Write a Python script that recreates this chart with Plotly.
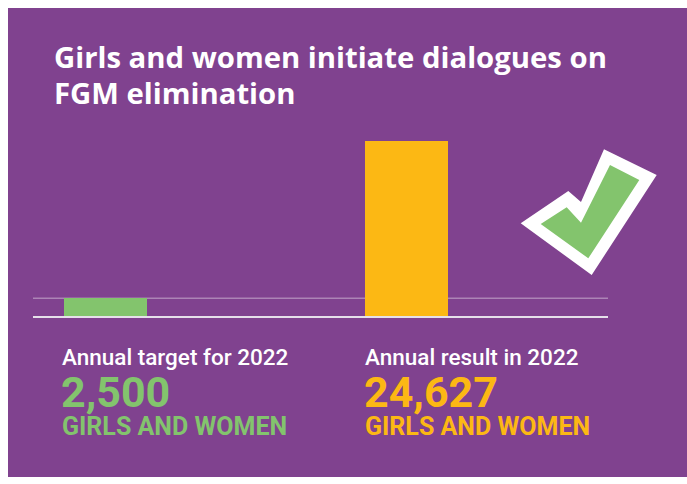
import plotly.graph_objects as go

# ---- data ----
categories = ["Annual target for 2022", "Annual result in 2022"]
values = [2500, 24627]
value_labels = ["2,500", "24,627"]
unit_label = "GIRLS AND WOMEN"
bar_colors = ["#83c46d", "#fcb814"]
title_lines = ["Girls and women initiate dialogues on", "FGM elimination"]

W, H = 687, 484
ML, MR, MT, MB = 33, 79, 130, 168
PW, PH = W - ML - MR, H - MT - MB


def px(x):
    return (x - ML) / PW


def py(y):
    return (H - MB - y) / PH


def path(points):
    return "M " + " L ".join(f"{px(a):.5f},{py(b):.5f}" for a, b in points) + " Z"


fig = go.Figure()
fig.add_trace(go.Bar(
    x=[0, 1], y=values, width=0.2757,
    marker=dict(color=bar_colors, line=dict(width=0)),
    hoverinfo="skip", showlegend=False,
))

shapes = [
    dict(type="rect", xref="paper", yref="paper", x0=px(8), x1=px(W + 2), y0=py(477), y1=py(8),
         fillcolor="#80428f", line=dict(width=0), layer="below"),
    dict(type="line", xref="paper", yref="y", x0=0, x1=1, y0=values[0], y1=values[0],
         line=dict(color="rgba(255,255,255,0.35)", width=1.5), layer="below"),
]

outer = [(520.7, 223.3), (568.3, 191), (581, 202), (604, 149.3), (656.7, 175), (591.7, 275)]
inner = [(540.7, 224), (566.7, 207.3), (581, 222.7), (610, 165), (639.3, 180), (588.3, 258.3)]
shapes.append(dict(type="path", xref="paper", yref="paper", path=path(outer),
                   fillcolor="white", line=dict(width=0), layer="above"))
shapes.append(dict(type="path", xref="paper", yref="paper", path=path(inner),
                   fillcolor="#83c46d", line=dict(width=0), layer="above"))

ann = []
for t, yc in zip(title_lines, [57.5, 93]):
    ann.append(dict(text=t, xref="paper", yref="paper", x=px(52), y=py(yc), xanchor="left",
                    yanchor="middle", showarrow=False,
                    font=dict(family="Open Sans", size=29.3, color="white", weight=700)))

for xl, cat, val, col in zip([60, 363], categories, value_labels, bar_colors):
    ann.append(dict(text=cat, xref="paper", yref="paper", x=px(xl), y=py(357), xanchor="left",
                    yanchor="middle", showarrow=False,
                    font=dict(family="Roboto", size=22.5, color="white", weight=500)))
    ann.append(dict(text=val, xref="paper", yref="paper", x=px(xl - 1), y=py(392), xanchor="left",
                    yanchor="middle", showarrow=False,
                    font=dict(family="Roboto", size=43, color=col, weight=700)))
    ann.append(dict(text=unit_label, xref="paper", yref="paper", x=px(xl), y=py(426), xanchor="left",
                    yanchor="middle", showarrow=False,
                    font=dict(family="Roboto", size=25, color=col, weight=700)))

fig.update_layout(
    width=W, height=H,
    margin=dict(l=ML, r=MR, t=MT, b=MB),
    paper_bgcolor="white", plot_bgcolor="rgba(0,0,0,0)",
    xaxis=dict(range=[-0.2409, 1.6694], showgrid=False, zeroline=False, showticklabels=False,
               showline=True, linecolor="#e6e0ea", linewidth=1.5, ticks="", fixedrange=True),
    yaxis=dict(range=[0, 24627 * PH / 175], showgrid=False, zeroline=False, showticklabels=False,
               showline=False, ticks="", fixedrange=True),
    shapes=shapes, annotations=ann, bargap=0,
)

fig.write_html("out.html", config={"displayModeBar": False})
